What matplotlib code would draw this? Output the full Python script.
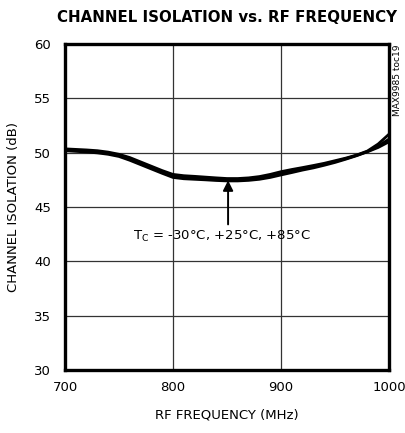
import matplotlib.pyplot as plt

# readings (MHz, dB)
freq = [700, 710, 720, 730, 740, 750, 760, 770, 780, 790, 800, 810, 820, 830, 840, 850,
        860, 870, 880, 890, 900, 910, 920, 930, 940, 950, 960, 970, 980, 990, 1000]
iso_m30 = [50.35, 50.3, 50.25, 50.18, 50.05, 49.85, 49.55, 49.15, 48.75, 48.35, 48.0,
           47.88, 47.82, 47.75, 47.68, 47.62, 47.62, 47.68, 47.8, 48.0, 48.25, 48.45,
           48.63, 48.82, 49.02, 49.26, 49.5, 49.78, 50.15, 50.8, 51.7]
iso_p25 = [50.25, 50.2, 50.15, 50.08, 49.95, 49.75, 49.42, 49.02, 48.62, 48.22, 47.85,
           47.72, 47.68, 47.62, 47.55, 47.5, 47.5, 47.55, 47.65, 47.85, 48.1, 48.3,
           48.5, 48.7, 48.92, 49.18, 49.45, 49.75, 50.1, 50.6, 51.25]
iso_p85 = [50.18, 50.12, 50.06, 49.98, 49.85, 49.65, 49.3, 48.9, 48.5, 48.1, 47.72,
           47.6, 47.55, 47.5, 47.44, 47.4, 47.4, 47.45, 47.55, 47.72, 47.95, 48.17,
           48.4, 48.6, 48.84, 49.1, 49.4, 49.72, 50.08, 50.48, 51.0]

xticks = [700, 800, 900, 1000]
yticks = [30, 35, 40, 45, 50, 55, 60]

plt.rcParams['font.family'] = ['DejaVu Sans']

fig = plt.figure(figsize=(4.05, 4.33), dpi=100)
ax = fig.add_axes([65 / 405, 1 - 370 / 433, 324 / 405, 326 / 433])

for y in iso_m30, iso_p25, iso_p85:
    ax.plot(freq, y, color='black', lw=2.0, solid_capstyle='butt')

ax.set_xlim(700, 1000)
ax.set_ylim(30, 60)
ax.set_xticks(xticks)
ax.set_yticks(yticks)
ax.grid(True, color='#333333', lw=0.9)
ax.set_axisbelow(True)
ax.tick_params(axis='y', length=0, labelsize=9.5, pad=10)
ax.tick_params(axis='x', length=0, labelsize=9.5, pad=8)
for s in ax.spines.values():
    s.set_linewidth(2.4)

ax.set_xlabel('RF FREQUENCY (MHz)', fontsize=9.5, labelpad=10)
ax.set_ylabel('CHANNEL ISOLATION (dB)', fontsize=9.5, labelpad=10)

ax.annotate('', xy=(851, 47.45), xytext=(851, 43.4),
            arrowprops=dict(arrowstyle='-|>', color='black', lw=1.4,
                            mutation_scale=15, shrinkA=0, shrinkB=0))
ax.text(845, 42.3, 'T$_\\mathregular{C}$ = -30°C, +25°C, +85°C', ha='center', va='center',
        fontsize=9.5)

fig.text(227 / 405, 1 - 17 / 433, 'CHANNEL ISOLATION vs. RF FREQUENCY', ha='center',
         va='center', fontsize=10.8, fontweight='bold')
fig.text(397 / 405, 1 - 44 / 433, 'MAX9985 toc19', rotation=90, ha='center', va='top',
         fontsize=6.5)

fig.savefig('out.png', dpi=100)
